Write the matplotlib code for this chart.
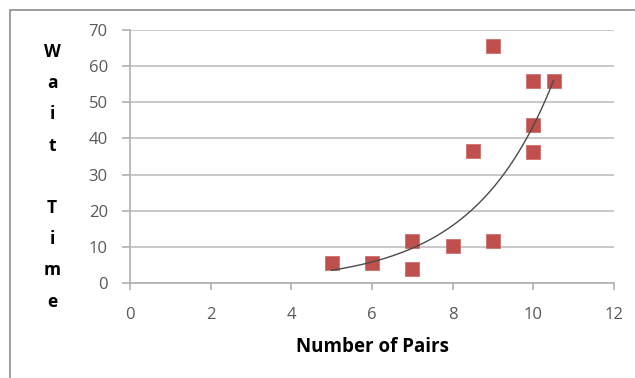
import numpy as np
import matplotlib.pyplot as plt
from matplotlib.patches import Rectangle

# data
pairs = [5, 6, 7, 7, 8, 9, 9, 8.5, 10, 10.5, 10, 10]
wait = [5.5, 5.5, 11.6, 4.0, 10.2, 11.6, 65.6, 36.5, 56.0, 56.0, 43.7, 36.3]
xticks = [0, 2, 4, 6, 8, 10, 12]
yticks = [0, 10, 20, 30, 40, 50, 60, 70]
ylab = ['W', 'a', 'i', 't', '', 'T', 'i', 'm', 'e']

plt.rcParams['font.family'] = ['Open Sans', 'DejaVu Sans']

fig = plt.figure(figsize=(6.35, 3.78), dpi=100)
ax = fig.add_axes([130/635, 95/378, 484/635, 253/378])

# outer frame like the excel chart area
fig.patches.append(Rectangle((10/635, -0.05), 640/635, 1 - 10/378 + 0.05,
                             transform=fig.transFigure, fill=False,
                             edgecolor='#8c8c8c', lw=1.2))

ax.scatter(pairs, wait, marker='s', s=95, c='#c0504d', edgecolors='#cf6e6b',
           linewidths=0.6, zorder=3)

# exponential trendline
b, a = np.polyfit(pairs, np.log(wait), 1)
xs = np.linspace(min(pairs), max(pairs), 200)
ax.plot(xs, np.exp(a) * np.exp(b * xs), color='#4a4a4a', lw=1.0, zorder=4)

ax.set_xlim(0, 12)
ax.set_ylim(0, 70)
ax.set_xticks(xticks)
ax.set_yticks(yticks)
ax.yaxis.grid(True, color='#c8c8c8', lw=1.4)
ax.set_axisbelow(True)
for s in ['top', 'right']:
    ax.spines[s].set_visible(False)
for s in ['left', 'bottom']:
    ax.spines[s].set_color('#b0b0b0')
    ax.spines[s].set_linewidth(1.2)
ax.tick_params(axis='x', direction='out', length=5, width=1.2, color='#b0b0b0',
               pad=12, labelsize=12, labelcolor='#595959')
ax.tick_params(axis='y', direction='out', length=6, width=1.2, color='#b0b0b0',
               pad=10, labelsize=12, labelcolor='#595959')

ax.set_xlabel('Number of Pairs', fontsize=13.5, fontweight='bold', labelpad=10)

# stacked vertical y label
for i, ch in enumerate(ylab):
    fig.text(52/635, 1 - (52 + i*31.2)/378, ch, ha='center', va='center',
             fontsize=12.5, fontweight='bold')

fig.savefig('out.png', dpi=100)
